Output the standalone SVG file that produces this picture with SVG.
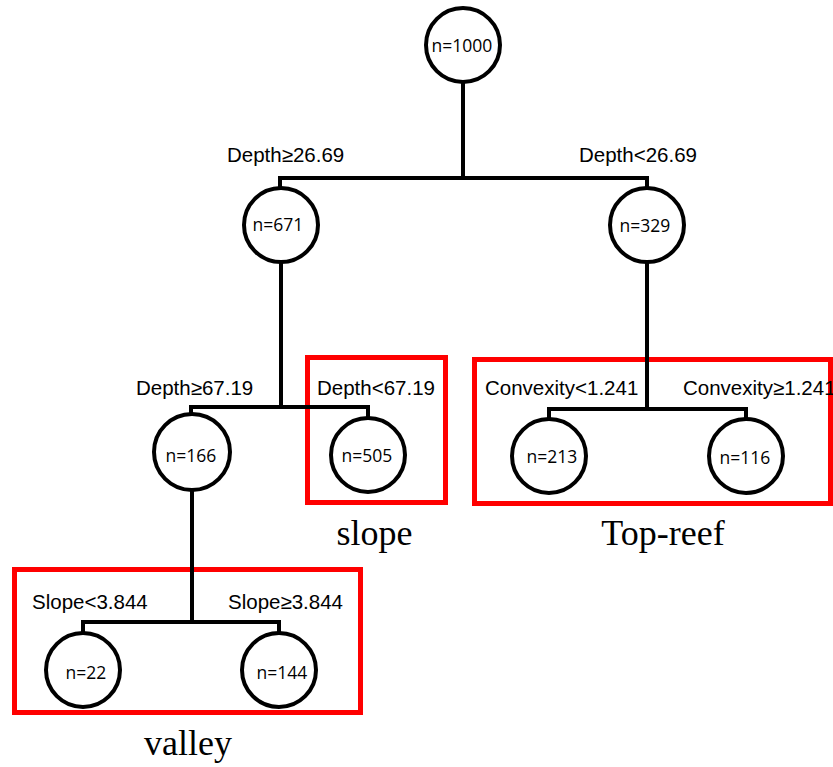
<svg xmlns="http://www.w3.org/2000/svg" width="833" height="767" viewBox="0 0 833 767">
<style>
.bg{fill:#ffffff}
.region{fill:none;stroke:#ff0000;stroke-width:5}
.edge{fill:none;stroke:#000000;stroke-width:4;stroke-linecap:square}
.node circle{fill:#ffffff;stroke:#000000;stroke-width:4}
.nt{font-family:"Open Sans","Liberation Sans",sans-serif;font-size:17.5px;fill:#000000;text-anchor:middle}
.lbl{font-family:"Liberation Sans",Arial,sans-serif;font-size:20.5px;fill:#000000}
.rl{font-family:"Liberation Serif","Times New Roman",serif;font-size:36px;fill:#000000;text-anchor:middle}
</style>
<rect class="bg" x="0" y="0" width="833" height="767"/>
<g id="regions">
<rect class="region" x="307.5" y="357.5" width="138" height="145"/>
<rect class="region" x="474.5" y="359.5" width="356" height="144"/>
<rect class="region" x="14.5" y="569.5" width="346" height="143"/>
<text class="rl" x="374.5" y="545">slope</text>
<text class="rl" x="663" y="545">Top-reef</text>
<text class="rl" x="188" y="755">valley</text>
</g>
<g id="connectors">
<path class="edge" d="M463 82 V178 M280 178 H647 M280 178 V188 M647 178 V188"/>
<path class="edge" d="M281 262 V407 M191 407 H368 M191 407 V414 M368 407 V417"/>
<path class="edge" d="M647 262 V409 M549 409 H746 M549 409 V419 M746 409 V419"/>
<path class="edge" d="M192 490 V622 M83 622 H279 M83 622 V633 M279 622 V633"/>
</g>
<g id="labels">
<text class="lbl" x="227" y="162">Depth≥26.69</text>
<text class="lbl" x="579" y="162">Depth&lt;26.69</text>
<text class="lbl" x="136" y="395">Depth≥67.19</text>
<text class="lbl" x="317" y="395">Depth&lt;67.19</text>
<text class="lbl" x="485" y="395">Convexity&lt;1.241</text>
<text class="lbl" x="683" y="395">Convexity≥1.241</text>
<text class="lbl" x="32" y="609">Slope&lt;3.844</text>
<text class="lbl" x="228" y="609">Slope≥3.844</text>
</g>
<g id="n1000" class="node"><circle cx="463" cy="45" r="37"/><text class="nt" x="462" y="52">n=1000</text></g>
<g id="n671" class="node"><circle cx="281" cy="225" r="37"/><text class="nt" x="278" y="231">n=671</text></g>
<g id="n329" class="node"><circle cx="647" cy="225" r="37"/><text class="nt" x="645" y="232">n=329</text></g>
<g id="n166" class="node"><circle cx="192" cy="452" r="38"/><text class="nt" x="191" y="462">n=166</text></g>
<g id="n505" class="node"><circle cx="368" cy="455" r="37"/><text class="nt" x="367" y="462">n=505</text></g>
<g id="n213" class="node"><circle cx="549" cy="456" r="37"/><text class="nt" x="552" y="463">n=213</text></g>
<g id="n116" class="node"><circle cx="746" cy="456" r="37"/><text class="nt" x="745" y="464">n=116</text></g>
<g id="n22" class="node"><circle cx="83" cy="670" r="37"/><text class="nt" x="86" y="679">n=22</text></g>
<g id="n144" class="node"><circle cx="279" cy="670" r="37"/><text class="nt" x="282" y="679">n=144</text></g>
</svg>
